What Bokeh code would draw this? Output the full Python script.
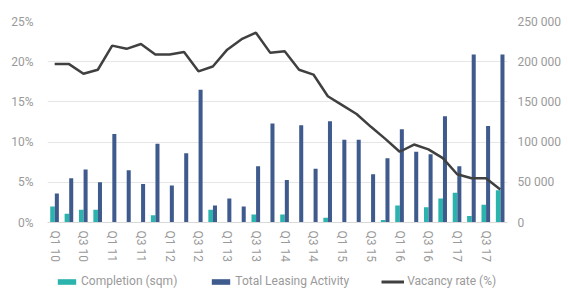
from bokeh.plotting import figure
from bokeh.models import (Range1d, LinearAxis, FixedTicker, Legend, LegendItem,
                          ColumnDataSource, PrintfTickFormatter)
from bokeh.layouts import column
from bokeh.embed import file_html
from bokeh.resources import INLINE
from bokeh.transform import dodge

quarters = ["Q1 10", "Q2 10", "Q3 10", "Q4 10", "Q1 11", "Q2 11", "Q3 11", "Q4 11",
            "Q1 12", "Q2 12", "Q3 12", "Q4 12", "Q1 13", "Q2 13", "Q3 13", "Q4 13",
            "Q1 14", "Q2 14", "Q3 14", "Q4 14", "Q1 15", "Q2 15", "Q3 15", "Q4 15",
            "Q1 16", "Q2 16", "Q3 16", "Q4 16", "Q1 17", "Q2 17", "Q3 17", "Q4 17"]
completion_sqm = [20000, 11000, 16000, 16000, 0, 0, 0, 9000,
                  0, 0, 0, 16000, 0, 0, 10000, 0,
                  10000, 0, 0, 6000, 0, 0, 0, 3000,
                  21000, 0, 19000, 30000, 37000, 8000, 22000, 40000]
leasing_sqm = [36000, 55000, 66000, 50000, 110000, 65000, 48000, 98000,
               46000, 86000, 165000, 21000, 30000, 20000, 70000, 123000,
               53000, 121000, 67000, 126000, 103000, 103000, 60000, 80000,
               116000, 88000, 85000, 132000, 70000, 209000, 120000, 209000]
vacancy_pct = [19.7, 19.7, 18.5, 19.0, 22.0, 21.6, 22.2, 20.9,
               20.9, 21.2, 18.8, 19.4, 21.5, 22.8, 23.6, 21.1,
               21.3, 19.0, 18.4, 15.7, 14.6, 13.5, 11.9, 10.4,
               8.8, 9.7, 9.1, 8.0, 6.0, 5.5, 5.5, 4.1]
left_ticks = [0, 5, 10, 15, 20, 25]
right_ticks = [0, 50000, 100000, 150000, 200000, 250000]
right_tick_labels = ["0", "50 000", "100 000", "150 000", "200 000", "250 000"]
legend_labels = ["Completion (sqm)", "Total Leasing Activity", "Vacancy rate (%)"]

FONT = "Roboto"
GREY = "#9a9a9a"
TEAL = "#2bb3ae"
NAVY = "#3f5a8c"
LINE = "#404040"
FS = "12px"

idx = list(range(len(quarters)))
src = ColumnDataSource(dict(x=idx, comp=completion_sqm, lease=leasing_sqm, vac=vacancy_pct))

p = figure(width=568, height=272, output_backend="svg", toolbar_location=None,
           x_range=Range1d(-0.5, len(quarters) - 0.5), y_range=Range1d(0, 25),
           min_border_left=47, min_border_right=61, min_border_top=21, min_border_bottom=50,
           frame_width=460, frame_height=201)
p.outline_line_color = None
p.background_fill_color = "white"
p.border_fill_color = "white"
p.extra_y_ranges = {"sqm": Range1d(0, 250000)}

# axes
p.xaxis.ticker = FixedTicker(ticks=idx[::2])
p.xaxis.major_label_overrides = {i: quarters[i] for i in idx}
p.xaxis.major_label_orientation = "vertical"
p.xaxis.major_tick_line_color = None
p.xaxis.major_tick_out = 0
p.xaxis.major_tick_in = 0
p.xaxis.minor_tick_line_color = None
p.xaxis.axis_line_color = "#d9d9d9"
p.xaxis.major_label_standoff = 8
p.xaxis.major_label_text_font = FONT
p.xaxis.major_label_text_font_size = FS
p.xaxis.major_label_text_color = GREY

p.yaxis.ticker = FixedTicker(ticks=left_ticks)
p.yaxis.formatter = PrintfTickFormatter(format="%d%%")
p.yaxis.axis_line_color = None
p.yaxis.major_tick_line_color = None
p.yaxis.major_tick_out = 0
p.yaxis.minor_tick_line_color = None
p.yaxis.major_label_standoff = 14
p.yaxis.major_label_text_font = FONT
p.yaxis.major_label_text_font_size = FS
p.yaxis.major_label_text_color = GREY

ra = LinearAxis(y_range_name="sqm", ticker=FixedTicker(ticks=right_ticks))
ra.major_label_overrides = dict(zip(right_ticks, right_tick_labels))
ra.axis_line_color = None
ra.major_tick_line_color = None
ra.major_tick_out = 0
ra.minor_tick_line_color = None
ra.major_label_standoff = 10
ra.major_label_text_font = FONT
ra.major_label_text_font_size = FS
ra.major_label_text_color = GREY
p.add_layout(ra, "right")

p.xgrid.grid_line_color = None
p.ygrid.grid_line_color = "#e6e6e6"
p.ygrid.grid_line_width = 1

p.vbar(x=dodge("x", -0.15, range=p.x_range), top="comp", width=0.32, source=src,
       y_range_name="sqm", fill_color=TEAL, line_color=None)
p.vbar(x=dodge("x", 0.15, range=p.x_range), top="lease", width=0.28, source=src,
       y_range_name="sqm", fill_color=NAVY, line_color=None)
p.line(x="x", y="vac", source=src, line_color=LINE, line_width=2.5)

# legend strip below the chart (proxy renderers with a single zero-size entry)
lg = figure(width=568, height=17, output_backend="svg", toolbar_location=None,
            x_range=Range1d(0, 1), y_range=Range1d(0, 1),
            x_axis_location=None, y_axis_location=None, min_border=0)
lg.outline_line_color = None
lg.grid.grid_line_color = None
lg.background_fill_color = "white"
lg.border_fill_color = "white"
proxy = ColumnDataSource(dict(x=[0], y=[0], top=[0]))
e1 = lg.vbar(x="x", top="top", width=0, source=proxy, fill_color=TEAL, line_color=None)
e2 = lg.vbar(x="x", top="top", width=0, source=proxy, fill_color=NAVY, line_color=None)
e3 = lg.line(x="x", y="y", source=proxy, line_color=LINE, line_width=3)
legend = Legend(items=[LegendItem(label=legend_labels[0], renderers=[e1]),
                       LegendItem(label=legend_labels[1], renderers=[e2]),
                       LegendItem(label=legend_labels[2], renderers=[e3])],
                orientation="horizontal", location=(8, 1),
                glyph_width=23, glyph_height=7, label_height=12, label_standoff=3,
                spacing=32, padding=0, margin=0,
                label_text_font=FONT, label_text_font_size=FS, label_text_color=GREY,
                border_line_color=None, background_fill_alpha=0)
lg.add_layout(legend, "center")

open("out.html", "w").write(file_html(column(p, lg, spacing=0), INLINE))
